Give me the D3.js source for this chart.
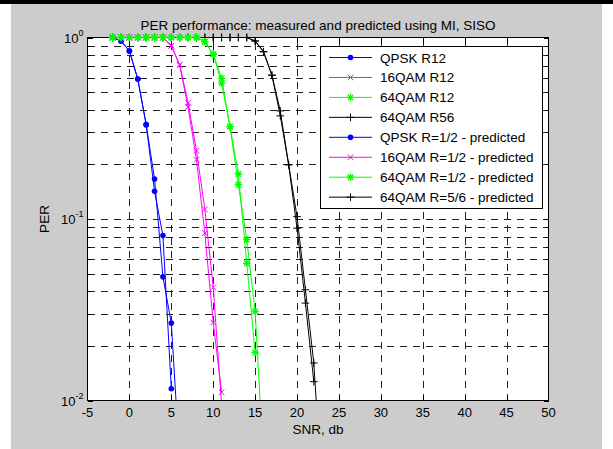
<!DOCTYPE html>
<html>
<head>
<meta charset="utf-8">
<script src="https://cdn.jsdelivr.net/npm/d3@7"></script>
<style>
  body { margin: 0; background: #fff; }
  svg { display: block; font-family: "Liberation Sans", Arial, sans-serif; }
</style>
</head>
<body>
<div id="chart"></div>
<script>
// tick values / labels
const xTicks = [-5, 0, 5, 10, 15, 20, 25, 30, 35, 40, 45, 50];
const yMajor = [1, 0.1, 0.01];
const yExp = ["0", "-1", "-2"];

// QPSK R=1/2
const snrQpsk = [-2, -1, 0, 1, 2, 3, 4, 5, 6];
const perQpskMeas = [1, 0.957, 0.843, 0.59, 0.331, 0.166, 0.048, 0.0267, 0.0046];
const perQpskPred = [1, 0.957, 0.843, 0.59, 0.331, 0.142, 0.081, 0.0116, null];

// 16QAM R=1/2
const snr16 = [-2, -1, 0, 1, 2, 3, 4, 5, 6, 7, 8, 9, 10, 11];
const per16Meas = [1, 1, 1, 1, 1, 1, 1, 0.90, 0.706, 0.437, 0.238, 0.113, 0.042, 0.0095];
const per16Pred = [1, 1, 1, 1, 1, 1, 1, 0.90, 0.706, 0.413, 0.212, 0.0835, 0.0269, 0.0111];

// 64QAM R=1/2
const snr64 = [-2, -1, 0, 1, 2, 3, 4, 5, 6, 7, 8, 9, 10, 11, 12, 13, 14, 15, 16];
const per64Meas = [1, 1, 1, 1, 1, 1, 1, 1, 1, 1, 1, 0.948, 0.81, 0.596, 0.323, 0.155, 0.077, 0.031, 0.0046];
const per64Pred = [1, 1, 1, 1, 1, 1, 1, 1, 1, 1, 1, 0.948, 0.81, 0.56, 0.323, 0.177, 0.057, 0.0184, null];

// 64QAM R=5/6
const snr56 = [-2, -1, 0, 1, 2, 3, 4, 5, 6, 7, 8, 9, 10, 11, 12, 13, 14, 15, 16, 17, 18, 19, 20, 21, 22, 23];
const per56Meas = [1, 1, 1, 1, 1, 1, 1, 1, 1, 1, 1, 1, 1, 1, 1, 1, 1, 0.957, 0.835, 0.62, 0.394, 0.199, 0.103, 0.0407, 0.0161, 0.003];
const per56Pred = [1, 1, 1, 1, 1, 1, 1, 1, 1, 1, 1, 1, 1, 1, 1, 1, 1, 0.957, 0.835, 0.62, 0.37, 0.199, 0.089, 0.0344, 0.0127, null];

const legendNames = [
    "QPSK R12", "16QAM R12", "64QAM R12", "64QAM R56",
    "QPSK R=1/2 - predicted", "16QAM R=1/2 - predicted",
    "64QAM R=1/2 - predicted", "64QAM R=5/6 - predicted"
];

const series = [
    {name: legendNames[0], snr: snrQpsk, per: perQpskMeas, color: "#0000ff", marker: "dot"},
    {name: legendNames[1], snr: snr16, per: per16Meas, color: "#ff00ff", marker: "times"},
    {name: legendNames[2], snr: snr64, per: per64Meas, color: "#00ff00", marker: "star"},
    {name: legendNames[3], snr: snr56, per: per56Meas, color: "#000000", marker: "plus"},
    {name: legendNames[4], snr: snrQpsk, per: perQpskPred, color: "#0000ff", marker: "dot"},
    {name: legendNames[5], snr: snr16, per: per16Pred, color: "#ff00ff", marker: "times"},
    {name: legendNames[6], snr: snr64, per: per64Pred, color: "#00ff00", marker: "star"},
    {name: legendNames[7], snr: snr56, per: per56Pred, color: "#000000", marker: "plus"}
];
// black drawn first so the green asterisks sit on top along PER = 1
const drawOrder = [3, 7, 0, 4, 1, 5, 2, 6];

const W = 613, H = 449;
const plot = {left: 87.5, right: 548.5, top: 37.5, bottom: 400.5};

const svg = d3.select("#chart").append("svg")
    .attr("width", W)
    .attr("height", H);

// figure frame
svg.append("rect").attr("x", 0).attr("y", 0).attr("width", W).attr("height", H).attr("fill", "#fff");
svg.append("rect").attr("x", 11).attr("y", 4).attr("width", 591).attr("height", H - 4).attr("fill", "#cccccc");
svg.append("rect").attr("x", 0).attr("y", 0).attr("width", W).attr("height", 4).attr("fill", "#000");

const x = d3.scaleLinear().domain([-5, 50]).range([plot.left, plot.right]);
const y = d3.scaleLog().domain([0.01, 1]).range([plot.bottom, plot.top]);

svg.append("rect")
    .attr("x", plot.left).attr("y", plot.top)
    .attr("width", plot.right - plot.left).attr("height", plot.bottom - plot.top)
    .attr("fill", "#fff");

const defs = svg.append("defs");
defs.append("clipPath").attr("id", "plot-clip")
    .append("rect")
        .attr("x", plot.left).attr("y", plot.top - 1)
        .attr("width", plot.right - plot.left).attr("height", plot.bottom - plot.top + 1);

// grid
const yAll = y.ticks();
const grid = svg.append("g")
    .attr("stroke", "#222")
    .attr("stroke-width", 1)
    .attr("stroke-dasharray", "7,6")
    .attr("shape-rendering", "crispEdges");

grid.selectAll("line.gx")
    .data(xTicks.slice(1, -1))
    .enter()
    .append("line")
        .attr("class", "gx")
        .attr("x1", d => Math.round(x(d)) + 0.5)
        .attr("x2", d => Math.round(x(d)) + 0.5)
        .attr("y1", plot.bottom)
        .attr("y2", plot.top);

grid.selectAll("line.gy")
    .data(yAll.filter(d => d > 0.0101 && d < 0.99))
    .enter()
    .append("line")
        .attr("class", "gy")
        .attr("x1", plot.left)
        .attr("x2", plot.right)
        .attr("y1", d => Math.round(y(d)) + 0.5)
        .attr("y2", d => Math.round(y(d)) + 0.5);

// curves
const line = d3.line()
    .defined(d => d.per !== null)
    .x(d => x(d.snr))
    .y(d => y(d.per));

const curveGroup = svg.append("g").attr("clip-path", "url(#plot-clip)");
drawOrder.forEach(i => {
    const s = series[i];
    const pts = s.snr.map((v, k) => ({snr: v, per: s.per[k]}));
    curveGroup.append("path")
        .datum(pts)
        .attr("d", line)
        .attr("fill", "none")
        .attr("stroke", s.color)
        .attr("stroke-width", 1);
});

// axes box + ticks
const axes = svg.append("g").attr("stroke", "#000").attr("shape-rendering", "crispEdges");
axes.append("rect")
    .attr("x", plot.left).attr("y", plot.top)
    .attr("width", plot.right - plot.left).attr("height", plot.bottom - plot.top)
    .attr("fill", "none");

xTicks.slice(1, -1).forEach(t => {
    const px = Math.round(x(t)) + 0.5;
    axes.append("line").attr("x1", px).attr("x2", px).attr("y1", plot.bottom).attr("y2", plot.bottom - 5);
    axes.append("line").attr("x1", px).attr("x2", px).attr("y1", plot.top).attr("y2", plot.top + 5);
});

yAll.forEach(t => {
    const py = Math.round(y(t)) + 0.5;
    const len = yMajor.includes(t) ? 5 : 3;
    axes.append("line").attr("x1", plot.left).attr("x2", plot.left + len).attr("y1", py).attr("y2", py);
    axes.append("line").attr("x1", plot.right).attr("x2", plot.right - len).attr("y1", py).attr("y2", py);
});

// tick labels
svg.append("g")
    .selectAll("text")
    .data(xTicks)
    .enter()
    .append("text")
        .attr("x", d => x(d))
        .attr("y", plot.bottom + 16)
        .attr("text-anchor", "middle")
        .attr("font-size", 13)
        .text(d => d);

const yLab = svg.append("g")
    .selectAll("text")
    .data(yMajor)
    .enter()
    .append("text")
        .attr("x", plot.left - 4)
        .attr("y", d => y(d) + 5)
        .attr("text-anchor", "end")
        .attr("font-size", 13);
yLab.append("tspan").text("10");
yLab.append("tspan")
    .attr("dy", -7)
    .attr("font-size", 9)
    .text((d, i) => yExp[i]);

// markers
function markerPath(type, h){
    if (type === "plus") return `M${-h},0H${h}M0,${-h}V${h}`;
    if (type === "times") return `M${-h},${-h}L${h},${h}M${-h},${h}L${h},${-h}`;
    const k = h * 0.72;
    return `M${-h},0H${h}M0,${-h}V${h}M${-k},${-k}L${k},${k}M${-k},${k}L${k},${-k}`;
}

function drawMarker(g, s, cx, cy){
    if (s.marker === "dot") {
        g.append("circle").attr("cx", cx).attr("cy", cy).attr("r", 2.8).attr("fill", s.color);
    } else {
        const h = s.marker === "times" ? 2.8 : 3.8;
        g.append("path")
            .attr("transform", `translate(${cx},${cy})`)
            .attr("d", markerPath(s.marker, h))
            .attr("fill", "none")
            .attr("stroke", s.color)
            .attr("stroke-width", s.marker === "star" ? 1.3 : 1);
    }
}

const markerGroup = svg.append("g");
drawOrder.forEach(i => {
    const s = series[i];
    s.snr.forEach((v, k) => {
        const p = s.per[k];
        if (p === null || p < 0.0099) return;
        drawMarker(markerGroup, s, x(v), y(p));
    });
});

// titles
svg.append("text")
    .attr("x", (plot.left + plot.right) / 2)
    .attr("y", 30)
    .attr("text-anchor", "middle")
    .attr("font-size", 13.5)
    .text("PER performance: measured and predicted using MI, SISO");

svg.append("text")
    .attr("x", (plot.left + plot.right) / 2)
    .attr("y", 434)
    .attr("text-anchor", "middle")
    .attr("font-size", 13.5)
    .text("SNR, db");

svg.append("text")
    .attr("transform", `translate(48.5, ${(plot.top + plot.bottom) / 2}) rotate(-90)`)
    .attr("text-anchor", "middle")
    .attr("font-size", 13.5)
    .text("PER");

// legend
const legend = svg.append("g");
legend.append("rect")
    .attr("x", 320.5).attr("y", 46.5)
    .attr("width", 222).attr("height", 162)
    .attr("fill", "#fff")
    .attr("stroke", "#000")
    .attr("shape-rendering", "crispEdges");

series.forEach((s, i) => {
    const ly = 57.5 + i * 19.95;
    legend.append("line")
        .attr("x1", 329).attr("x2", 372)
        .attr("y1", ly).attr("y2", ly)
        .attr("stroke", s.color);
    drawMarker(legend, s, 350.5, ly);
    legend.append("text")
        .attr("x", 380)
        .attr("y", ly + 5)
        .attr("font-size", 13.5)
        .text(s.name);
});
</script>
</body>
</html>
